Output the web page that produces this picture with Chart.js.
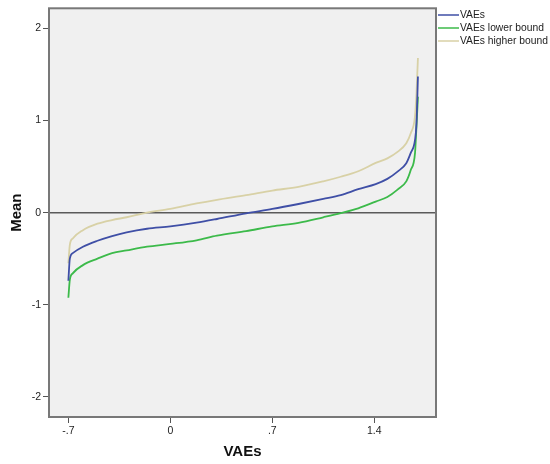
<!DOCTYPE html>
<html>
<head>
<meta charset="utf-8">
<script src="https://cdn.jsdelivr.net/npm/chart.js@4/dist/chart.umd.min.js"></script>
<style>
html,body{margin:0;padding:0;background:#ffffff;}
#wrap{width:550px;height:464px;position:relative;}
</style>
</head>
<body>
<div id="wrap"><canvas id="c" width="550" height="464"></canvas></div>
<script>
// x positions (VAEs) shared by the three series
const xValues = [-0.70, -0.69, -0.67, -0.60, -0.50, -0.40, -0.30, -0.16, 0.00, 0.18, 0.32, 0.52, 0.70, 0.88, 1.05, 1.17, 1.29, 1.41, 1.49, 1.56, 1.62, 1.65, 1.68, 1.69, 1.70];
const meanVAEs   = [-0.74, -0.50, -0.44, -0.37, -0.305, -0.254, -0.214, -0.175, -0.149, -0.109, -0.069, -0.007, 0.04, 0.094, 0.149, 0.19, 0.255, 0.31, 0.367, 0.446, 0.537, 0.646, 0.79, 0.97, 1.48];
const lowerBound = [-0.925, -0.73, -0.66, -0.57, -0.50, -0.44, -0.41, -0.37, -0.34, -0.30, -0.25, -0.20, -0.15, -0.11, -0.05, -0.005, 0.047, 0.12, 0.17, 0.25, 0.34, 0.46, 0.65, 0.94, 1.26];
const upperBound = [-0.55, -0.35, -0.28, -0.19, -0.12, -0.08, -0.05, 0.00, 0.04, 0.10, 0.14, 0.19, 0.24, 0.28, 0.34, 0.39, 0.45, 0.54, 0.59, 0.66, 0.755, 0.86, 1.05, 1.30, 1.68];
const seriesNames = ["VAEs", "VAEs lower bound", "VAEs higher bound"];
const xTicks = [-0.7, 0, 0.7, 1.4];
const xTickLabels = ["-.7", "0", ".7", "1.4"];
const yTicks = [-2, -1, 0, 1, 2];
const yTickLabels = ["-2", "-1", "0", "1", "2"];

const colors = ["#3f4fa6", "#3cba4a", "#d8d1a6"];
const toPts = arr => xValues.map((x, i) => ({x: x, y: arr[i]}));

const bgPlugin = {
  id: 'bg',
  beforeDraw(chart) {
    const {ctx, chartArea: a} = chart;
    ctx.save();
    ctx.fillStyle = '#f0f0f0';
    ctx.fillRect(a.left, a.top, a.right - a.left, a.bottom - a.top);
    ctx.restore();
  },
  beforeDatasetsDraw(chart) {
    const {ctx, chartArea: a, scales} = chart;
    const y0 = scales.y.getPixelForValue(0);
    ctx.save();
    ctx.strokeStyle = '#5a5a5a';
    ctx.lineWidth = 1.5;
    ctx.beginPath();
    ctx.moveTo(a.left, y0);
    ctx.lineTo(a.right, y0);
    ctx.stroke();
    ctx.restore();
  },
  afterDraw(chart) {
    const {ctx, chartArea: a} = chart;
    ctx.save();
    ctx.strokeStyle = '#787878';
    ctx.lineWidth = 2;
    ctx.strokeRect(a.left, a.top, a.right - a.left, a.bottom - a.top);
    // legend
    ctx.font = '10.3px "Liberation Sans", Arial, sans-serif';
    ctx.textBaseline = 'middle';
    ctx.textAlign = 'left';
    chart.data.datasets.forEach((ds, i) => {
      const y = 15 + i * 13;
      ctx.strokeStyle = ds.borderColor;
      ctx.lineWidth = 1.5;
      ctx.beginPath();
      ctx.moveTo(438, y);
      ctx.lineTo(459, y);
      ctx.stroke();
      ctx.fillStyle = '#222';
      ctx.fillText(ds.label, 460, y);
    });
    ctx.restore();
  }
};

new Chart(document.getElementById('c'), {
  type: 'line',
  data: {
    datasets: [
      {label: seriesNames[0], data: toPts(meanVAEs), borderColor: colors[0], borderWidth: 1.8, pointRadius: 0, cubicInterpolationMode: 'monotone', fill: false},
      {label: seriesNames[1], data: toPts(lowerBound), borderColor: colors[1], borderWidth: 1.8, pointRadius: 0, cubicInterpolationMode: 'monotone', fill: false},
      {label: seriesNames[2], data: toPts(upperBound), borderColor: colors[2], borderWidth: 1.8, pointRadius: 0, cubicInterpolationMode: 'monotone', fill: false}
    ]
  },
  options: {
    responsive: false,
    animation: false,
    devicePixelRatio: 1,
    layout: {padding: {left: 0, right: 114, top: 8, bottom: 0}},
    plugins: {legend: {display: false}, tooltip: {enabled: false}},
    scales: {
      x: {
        type: 'linear',
        min: -0.833, max: 1.824,
        afterBuildTicks(scale) { scale.ticks = xTicks.map(v => ({value: v})); },
        afterFit(scale) { scale.height = 47; },
        ticks: {
          callback: (v) => { const i = xTicks.indexOf(v); return i >= 0 ? xTickLabels[i] : ''; },
          font: {family: '"Liberation Sans", Arial, sans-serif', size: 10.5},
          color: '#222', padding: 2, maxRotation: 0, autoSkip: false
        },
        grid: {drawOnChartArea: false, drawTicks: true, tickLength: 6, color: '#555', lineWidth: 1},
        border: {display: false},
        title: {display: true, text: 'VAEs', font: {family: '"Liberation Sans", Arial, sans-serif', size: 15, weight: 'bold'}, color: '#111', padding: {top: 0, bottom: 3}}
      },
      y: {
        type: 'linear',
        min: -2.22, max: 2.22,
        afterBuildTicks(scale) { scale.ticks = yTicks.map(v => ({value: v})); },
        afterFit(scale) { scale.width = 49; },
        ticks: {
          callback: (v) => { const i = yTicks.indexOf(v); return i >= 0 ? yTickLabels[i] : ''; },
          font: {family: '"Liberation Sans", Arial, sans-serif', size: 10.5},
          color: '#222', padding: 2
        },
        grid: {drawOnChartArea: false, drawTicks: true, tickLength: 6, color: '#555', lineWidth: 1},
        border: {display: false},
        title: {display: true, text: 'Mean', font: {family: '"Liberation Sans", Arial, sans-serif', size: 15, weight: 'bold'}, color: '#111', padding: {top: 8, bottom: 0}}
      }
    }
  },
  plugins: [bgPlugin]
});
</script>
</body>
</html>
